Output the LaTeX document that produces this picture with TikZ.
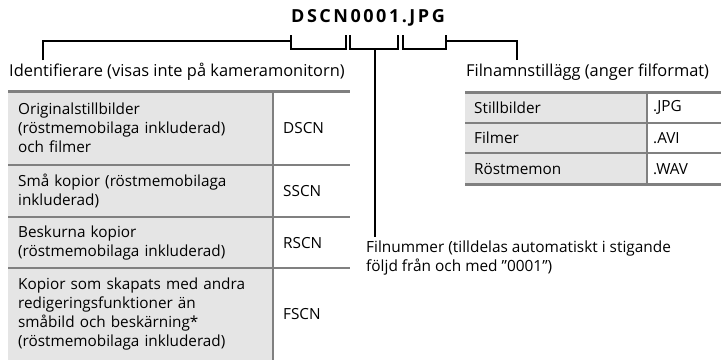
\documentclass[tikz,border=0pt]{standalone}
\usepackage{fontspec}
\setmainfont{Open Sans}
\newfontfamily\titlefont[LetterSpace=14]{Open Sans}
\usetikzlibrary{positioning}
\tikzset{
  headlbl/.style={font=\fontsize{16.4}{19}\selectfont, inner sep=0pt, align=left},
  lbl/.style={font=\fontsize{15.4}{19}\selectfont, inner sep=0pt, align=left},
  namecell/.style={anchor=north west, fill=black!10, inner xsep=10pt, inner ysep=0pt,
    align=left, font=\fontsize{15.3}{19}\selectfont},
  codecell/.style={anchor=north west, inner xsep=10pt, inner ysep=0pt,
    align=left, font=\fontsize{15.3}{19}\selectfont},
  rule/.style={draw=black!50, line width=2.5pt},
  brk/.style={line width=1.6pt}
}
\begin{document}
\begin{tikzpicture}[x=1pt,y=-1pt]
\useasboundingbox (0,0) rectangle (721,360);
% file name
\node[font=\titlefont\bfseries\fontsize{18}{20}\selectfont] (fname) at (368,18) {DSCN0001.JPG};
% brackets under the name
\coordinate (brA) at (291,41);
\coordinate (brC) at (446,41);
\coordinate (stem) at (375,49);
\draw[brk] (291,35) -- (291,49) -- (346,49) -- (346,35);
\draw[brk] (350,35) -- (350,49) -- (398,49) -- (398,35);
\draw[brk] (403,35) -- (403,49) -- (446,49) -- (446,35);
% labels
\node[headlbl, anchor=west] (idlabel) at (9,72) {Identifierare (visas inte på kameramonitorn)};
\node[headlbl, anchor=west] (extlabel) at (466,72) {Filnamnstillägg (anger filformat)};
\node[lbl, anchor=north west] (numlabel) at (366,241)
  {Filnummer (tilldelas automatiskt i stigande\\följd från och med ”0001”)};
\coordinate (idtip) at (43,60);
\coordinate (exttip) at (517,60);
\coordinate (numtip) at (375,237);
\draw[brk] (idtip) |- (brA);
\draw[brk] (exttip) |- (brC);
\draw[brk] (stem) -- (numtip);
% left table
\node[namecell, text width=245pt, minimum height=74pt] (orig) at (8,91)
  {Originalstillbilder\\(röstmemobilaga inkluderad)\\och filmer};
\node[codecell, text width=57pt, minimum height=74pt] (dscn) at (273,91) {DSCN};
\node[namecell, text width=245pt, minimum height=52pt] (small) at (8,165)
  {Små kopior (röstmemobilaga\\inkluderad)};
\node[codecell, text width=57pt, minimum height=52pt] (sscn) at (273,165) {SSCN};
\node[namecell, text width=245pt, minimum height=51pt] (crop) at (8,217)
  {Beskurna kopior\\(röstmemobilaga inkluderad)};
\node[codecell, text width=57pt, minimum height=51pt] (rscn) at (273,217) {RSCN};
\node[namecell, text width=245pt, minimum height=92pt] (other) at (8,268)
  {Kopior som skapats med andra\\redigeringsfunktioner än\\småbild och beskärning*\\(röstmemobilaga inkluderad)};
\node[codecell, text width=57pt, minimum height=92pt] (fscn) at (273,268) {FSCN};
\draw[rule, line width=3pt] (orig.north west) -- (dscn.north east);
\draw[rule] (small.north west) -- (sscn.north east);
\draw[rule] (crop.north west) -- (rscn.north east);
\draw[rule] (other.north west) -- (fscn.north east);
\draw[rule] (dscn.north west) -- (fscn.south west);
% right table
\node[namecell, inner xsep=9pt, text width=164pt, minimum height=31pt] (still) at (465,92) {Stillbilder};
\node[codecell, inner xsep=6pt, text width=62pt, minimum height=31pt] (jpg) at (647,92) {.JPG};
\node[namecell, inner xsep=9pt, text width=164pt, minimum height=30pt] (movie) at (465,123) {Filmer};
\node[codecell, inner xsep=6pt, text width=62pt, minimum height=30pt] (avi) at (647,123) {.AVI};
\node[namecell, inner xsep=9pt, text width=164pt, minimum height=31pt] (voice) at (465,153) {Röstmemon};
\node[codecell, inner xsep=6pt, text width=62pt, minimum height=31pt] (wav) at (647,153) {.WAV};
\draw[rule, line width=3pt] (still.north west) -- (jpg.north east);
\draw[rule] (movie.north west) -- (avi.north east);
\draw[rule] (voice.north west) -- (wav.north east);
\draw[rule] (voice.south west) -- (wav.south east);
\draw[rule] (jpg.north west) -- (wav.south west);
\end{tikzpicture}
\end{document}
